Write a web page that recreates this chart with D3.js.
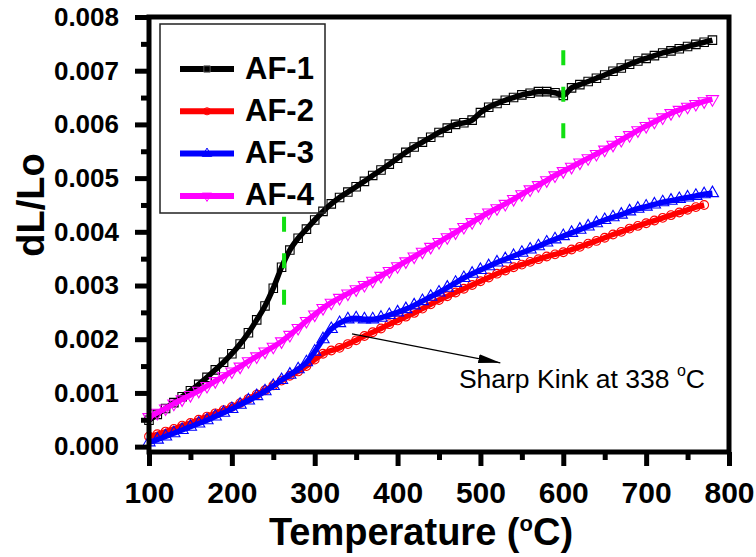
<!DOCTYPE html>
<html>
<head>
<meta charset="utf-8">
<script src="https://cdn.jsdelivr.net/npm/d3@7"></script>
<style>
body { margin: 0; background: #fff; }
svg { font-family: "Liberation Sans", Arial, sans-serif; }
</style>
</head>
<body>
<svg id="chart" width="756" height="557"></svg>
<script>
// temperature grid (°C)
var temps = [100,110,120,130,140,150,160,170,180,190,200,210,220,230,240,250,260,270,280,290,
             300,310,320,330,340,350,360,370,380,390,400,410,420,430,440,450,460,470,480,490,
             500,510,520,530,540,550,560,570,580,590,600,610,620,630,640,650,660,670,680,690,
             700,710,720,730,740,750,760,770,780];

var af1 = [0.00049,0.00060,0.00071,0.00082,0.00093,0.00104,0.00116,0.00129,0.00143,0.00157,
           0.00173,0.00191,0.00212,0.00236,0.00262,0.00295,0.00334,0.00366,0.00388,0.00405,
           0.00422,0.00438,0.00452,0.00464,0.00474,0.00484,0.00494,0.00505,0.00515,0.00526,
           0.00537,0.00548,0.00558,0.00567,0.00576,0.00585,0.00593,0.00600,0.00603,0.00608,
           0.00622,0.00632,0.00639,0.00645,0.00650,0.00655,0.00658,0.00661,0.00661,0.00659,
           0.00654,0.00668,0.00674,0.00680,0.00686,0.00692,0.00699,0.00705,0.00712,0.00718,
           0.00723,0.00728,0.00733,0.00737,0.00741,0.00745,0.00749,0.00753,0.00757];

var af2 = [0.00019,0.00023,0.00028,0.00033,0.00039,0.00044,0.00050,0.00056,0.00062,0.00068,
           0.00074,0.00081,0.00089,0.00097,0.00105,0.00114,0.00123,0.00132,0.00140,0.00150,
           0.00162,0.00173,0.00179,0.00184,0.00191,0.00198,0.00206,0.00213,0.00220,0.00228,
           0.00235,0.00242,0.00249,0.00257,0.00265,0.00273,0.00280,0.00287,0.00294,0.00301,
           0.00308,0.00315,0.00322,0.00328,0.00334,0.00339,0.00344,0.00349,0.00354,0.00358,
           0.00362,0.00367,0.00372,0.00378,0.00383,0.00389,0.00395,0.00400,0.00406,0.00411,
           0.00416,0.00421,0.00426,0.00431,0.00436,0.00441,0.00446,0.00450,null];

var af3 = [0.00008,0.00013,0.00019,0.00025,0.00031,0.00037,0.00043,0.00049,0.00056,0.00063,
           0.00070,0.00078,0.00086,0.00094,0.00103,0.00113,0.00124,0.00134,0.00144,0.00157,
           0.00177,0.00200,0.00219,0.00230,0.00237,0.00239,0.00237,0.00237,0.00240,0.00245,
           0.00250,0.00256,0.00263,0.00271,0.00279,0.00287,0.00296,0.00305,0.00314,0.00322,
           0.00329,0.00336,0.00343,0.00349,0.00355,0.00361,0.00367,0.00373,0.00380,0.00386,
           0.00392,0.00398,0.00404,0.00410,0.00416,0.00422,0.00427,0.00432,0.00438,0.00443,
           0.00447,0.00451,0.00455,0.00458,0.00461,0.00464,0.00467,0.00470,0.00472];

var af4 = [0.00055,0.00063,0.00071,0.00080,0.00088,0.00096,0.00104,0.00113,0.00122,0.00131,
           0.00140,0.00149,0.00159,0.00168,0.00177,0.00186,0.00196,0.00208,0.00221,0.00234,
           0.00246,0.00258,0.00268,0.00277,0.00285,0.00293,0.00301,0.00309,0.00318,0.00327,
           0.00336,0.00345,0.00354,0.00363,0.00372,0.00381,0.00390,0.00399,0.00409,0.00418,
           0.00427,0.00436,0.00444,0.00452,0.00461,0.00470,0.00479,0.00487,0.00496,0.00505,
           0.00513,0.00521,0.00529,0.00537,0.00545,0.00553,0.00562,0.00571,0.00580,0.00589,
           0.00597,0.00605,0.00613,0.00621,0.00627,0.00633,0.00638,0.00643,0.00647];

var names = ["AF-1", "AF-2", "AF-3", "AF-4"];
var xTicks = [100, 200, 300, 400, 500, 600, 700, 800];
var xMinor = [150, 250, 350, 450, 550, 650, 750];
var yTicks = [0, 0.001, 0.002, 0.003, 0.004, 0.005, 0.006, 0.007, 0.008];
var yMinor = [0.0005, 0.0015, 0.0025, 0.0035, 0.0045, 0.0055, 0.0065, 0.0075];

// green dashed markers: [temperature, from, to]
var guides = [[263, 0.00428, 0.00260], [600, 0.00738, 0.00572]];
// arrow [T, v] from -> to, and label position
var kinkFrom = [345, 0.00210], kinkTo = [524, 0.00156], kinkLabel = [474, 0.00109];

var svg = d3.select("#chart");
var x = d3.scaleLinear().domain([100, 800]).range([149, 729]);
var y = d3.scaleLinear().domain([-0.0001, 0.008]).range([452, 17]);

var series = [
    {name: names[0], values: af1, color: "#000000", symbol: d3.symbolSquare, size: 72, rot: 0},
    {name: names[1], values: af2, color: "#ff0000", symbol: d3.symbolCircle, size: 60, rot: 0},
    {name: names[2], values: af3, color: "#0000ff", symbol: d3.symbolTriangle, size: 64, rot: 0},
    {name: names[3], values: af4, color: "#ff00ff", symbol: d3.symbolTriangle, size: 64, rot: 180}
];

var line = d3.line()
    .defined(function(d) { return d[1] != null; })
    .x(function(d) { return x(d[0]); })
    .y(function(d) { return y(d[1]); })
    .curve(d3.curveMonotoneX);

series.forEach(function(s) {
    var pts = temps.map(function(t, i) { return [t, s.values[i]]; });
    var g = svg.append("g");
    g.append("path")
     .datum(pts)
     .attr("d", line)
     .attr("fill", "none")
     .attr("stroke", s.color)
     .attr("stroke-width", 5.5);
    g.selectAll(".pt")
     .data(pts.filter(function(d) { return d[1] != null; }))
     .enter().append("path")
     .attr("d", d3.symbol().type(s.symbol).size(s.size))
     .attr("transform", function(d) { return "translate(" + x(d[0]) + "," + y(d[1]) + ") rotate(" + s.rot + ")"; })
     .attr("fill", "none")
     .attr("stroke", s.color)
     .attr("stroke-width", 1.1);
});

// green dashed guides
svg.selectAll(".guide")
   .data(guides)
   .enter().append("line")
   .attr("x1", function(d) { return x(d[0]); })
   .attr("x2", function(d) { return x(d[0]); })
   .attr("y1", function(d) { return y(d[1]); })
   .attr("y2", function(d) { return y(d[2]); })
   .attr("stroke", "#11e011")
   .attr("stroke-width", 4)
   .attr("stroke-dasharray", "15,21.5");

// axes
var yAxis = svg.append("g")
   .attr("transform", "translate(149,0)")
   .call(d3.axisLeft(y).tickValues(yTicks).tickFormat(d3.format(".3f"))
         .tickSize(14).tickPadding(16).tickSizeOuter(0));
var yMin = svg.append("g")
   .attr("transform", "translate(149,0)")
   .call(d3.axisLeft(y).tickValues(yMinor).tickFormat("").tickSize(8).tickSizeOuter(0));
var xAxis = svg.append("g")
   .attr("transform", "translate(0,452)")
   .call(d3.axisBottom(x).tickValues(xTicks).tickFormat(d3.format("d"))
         .tickSize(14).tickPadding(16).tickSizeOuter(0));
var xMin = svg.append("g")
   .attr("transform", "translate(0,452)")
   .call(d3.axisBottom(x).tickValues(xMinor).tickFormat("").tickSize(8).tickSizeOuter(0));

[yAxis, yMin, xAxis, xMin].forEach(function(a) {
    a.select(".domain").remove();
    a.selectAll(".tick line").attr("stroke", "#000").attr("stroke-width", 5);
});
yAxis.selectAll(".tick text")
     .attr("font-size", "26px").attr("font-weight", "bold")
     .attr("font-family", "Liberation Sans, Arial, sans-serif").attr("fill", "#000");
xAxis.selectAll(".tick text")
     .attr("font-size", "30px").attr("font-weight", "bold")
     .attr("font-family", "Liberation Sans, Arial, sans-serif").attr("fill", "#000");

// frame
svg.append("rect")
   .attr("x", x(100)).attr("y", y(0.008))
   .attr("width", x(800) - x(100)).attr("height", y(-0.0001) - y(0.008))
   .attr("fill", "none").attr("stroke", "#000").attr("stroke-width", 5);

// axis titles
var xt = svg.append("text")
   .attr("x", 421).attr("y", 545)
   .attr("text-anchor", "middle")
   .attr("font-size", "38px").attr("font-weight", "bold");
xt.append("tspan").text("Temperature (");
xt.append("tspan").attr("font-size", "22px").attr("dy", -14).text("o");
xt.append("tspan").attr("dy", 14).text("C)");

svg.append("text")
   .attr("transform", "translate(44,205) rotate(-90)")
   .attr("text-anchor", "middle")
   .attr("font-size", "38px").attr("font-weight", "bold")
   .text("dL/Lo");

// legend
var legend = svg.append("g");
legend.append("rect")
      .attr("x", 160).attr("y", 24).attr("width", 165).attr("height", 189)
      .attr("fill", "none").attr("stroke", "#222").attr("stroke-width", 1.5);
series.forEach(function(s, i) {
    var ly = 69 + i * 42.3;
    legend.append("line")
          .attr("x1", 180).attr("x2", 234).attr("y1", ly).attr("y2", ly)
          .attr("stroke", s.color).attr("stroke-width", 6);
    legend.append("path")
          .attr("d", d3.symbol().type(s.symbol).size(40))
          .attr("transform", "translate(207," + ly + ") rotate(" + s.rot + ")")
          .attr("fill", "none").attr("stroke", i == 0 ? "#555" : s.color).attr("stroke-width", 1);
    legend.append("text")
          .attr("x", 245).attr("y", ly + 9.5)
          .attr("font-size", "31px").attr("font-weight", "bold")
          .text(s.name);
});

// annotation
svg.append("defs").append("marker")
   .attr("id", "head")
   .attr("markerUnits", "userSpaceOnUse")
   .attr("markerWidth", 24).attr("markerHeight", 12)
   .attr("refX", 22).attr("refY", 5)
   .attr("orient", "auto")
   .append("path").attr("d", "M0,0.5 L22,5 L0,9.5 Z").attr("fill", "#000");
svg.append("line")
   .attr("x1", x(kinkFrom[0])).attr("y1", y(kinkFrom[1]))
   .attr("x2", x(kinkTo[0])).attr("y2", y(kinkTo[1]))
   .attr("stroke", "#000").attr("stroke-width", 1.2)
   .attr("marker-end", "url(#head)");
var kt = svg.append("text")
   .attr("x", x(kinkLabel[0])).attr("y", y(kinkLabel[1]))
   .attr("font-size", "26.5px");
kt.append("tspan").text("Sharp Kink at 338 ");
kt.append("tspan").attr("font-size", "16px").attr("dy", -12).text("o");
kt.append("tspan").attr("dy", 12).text("C");
</script>
</body>
</html>
